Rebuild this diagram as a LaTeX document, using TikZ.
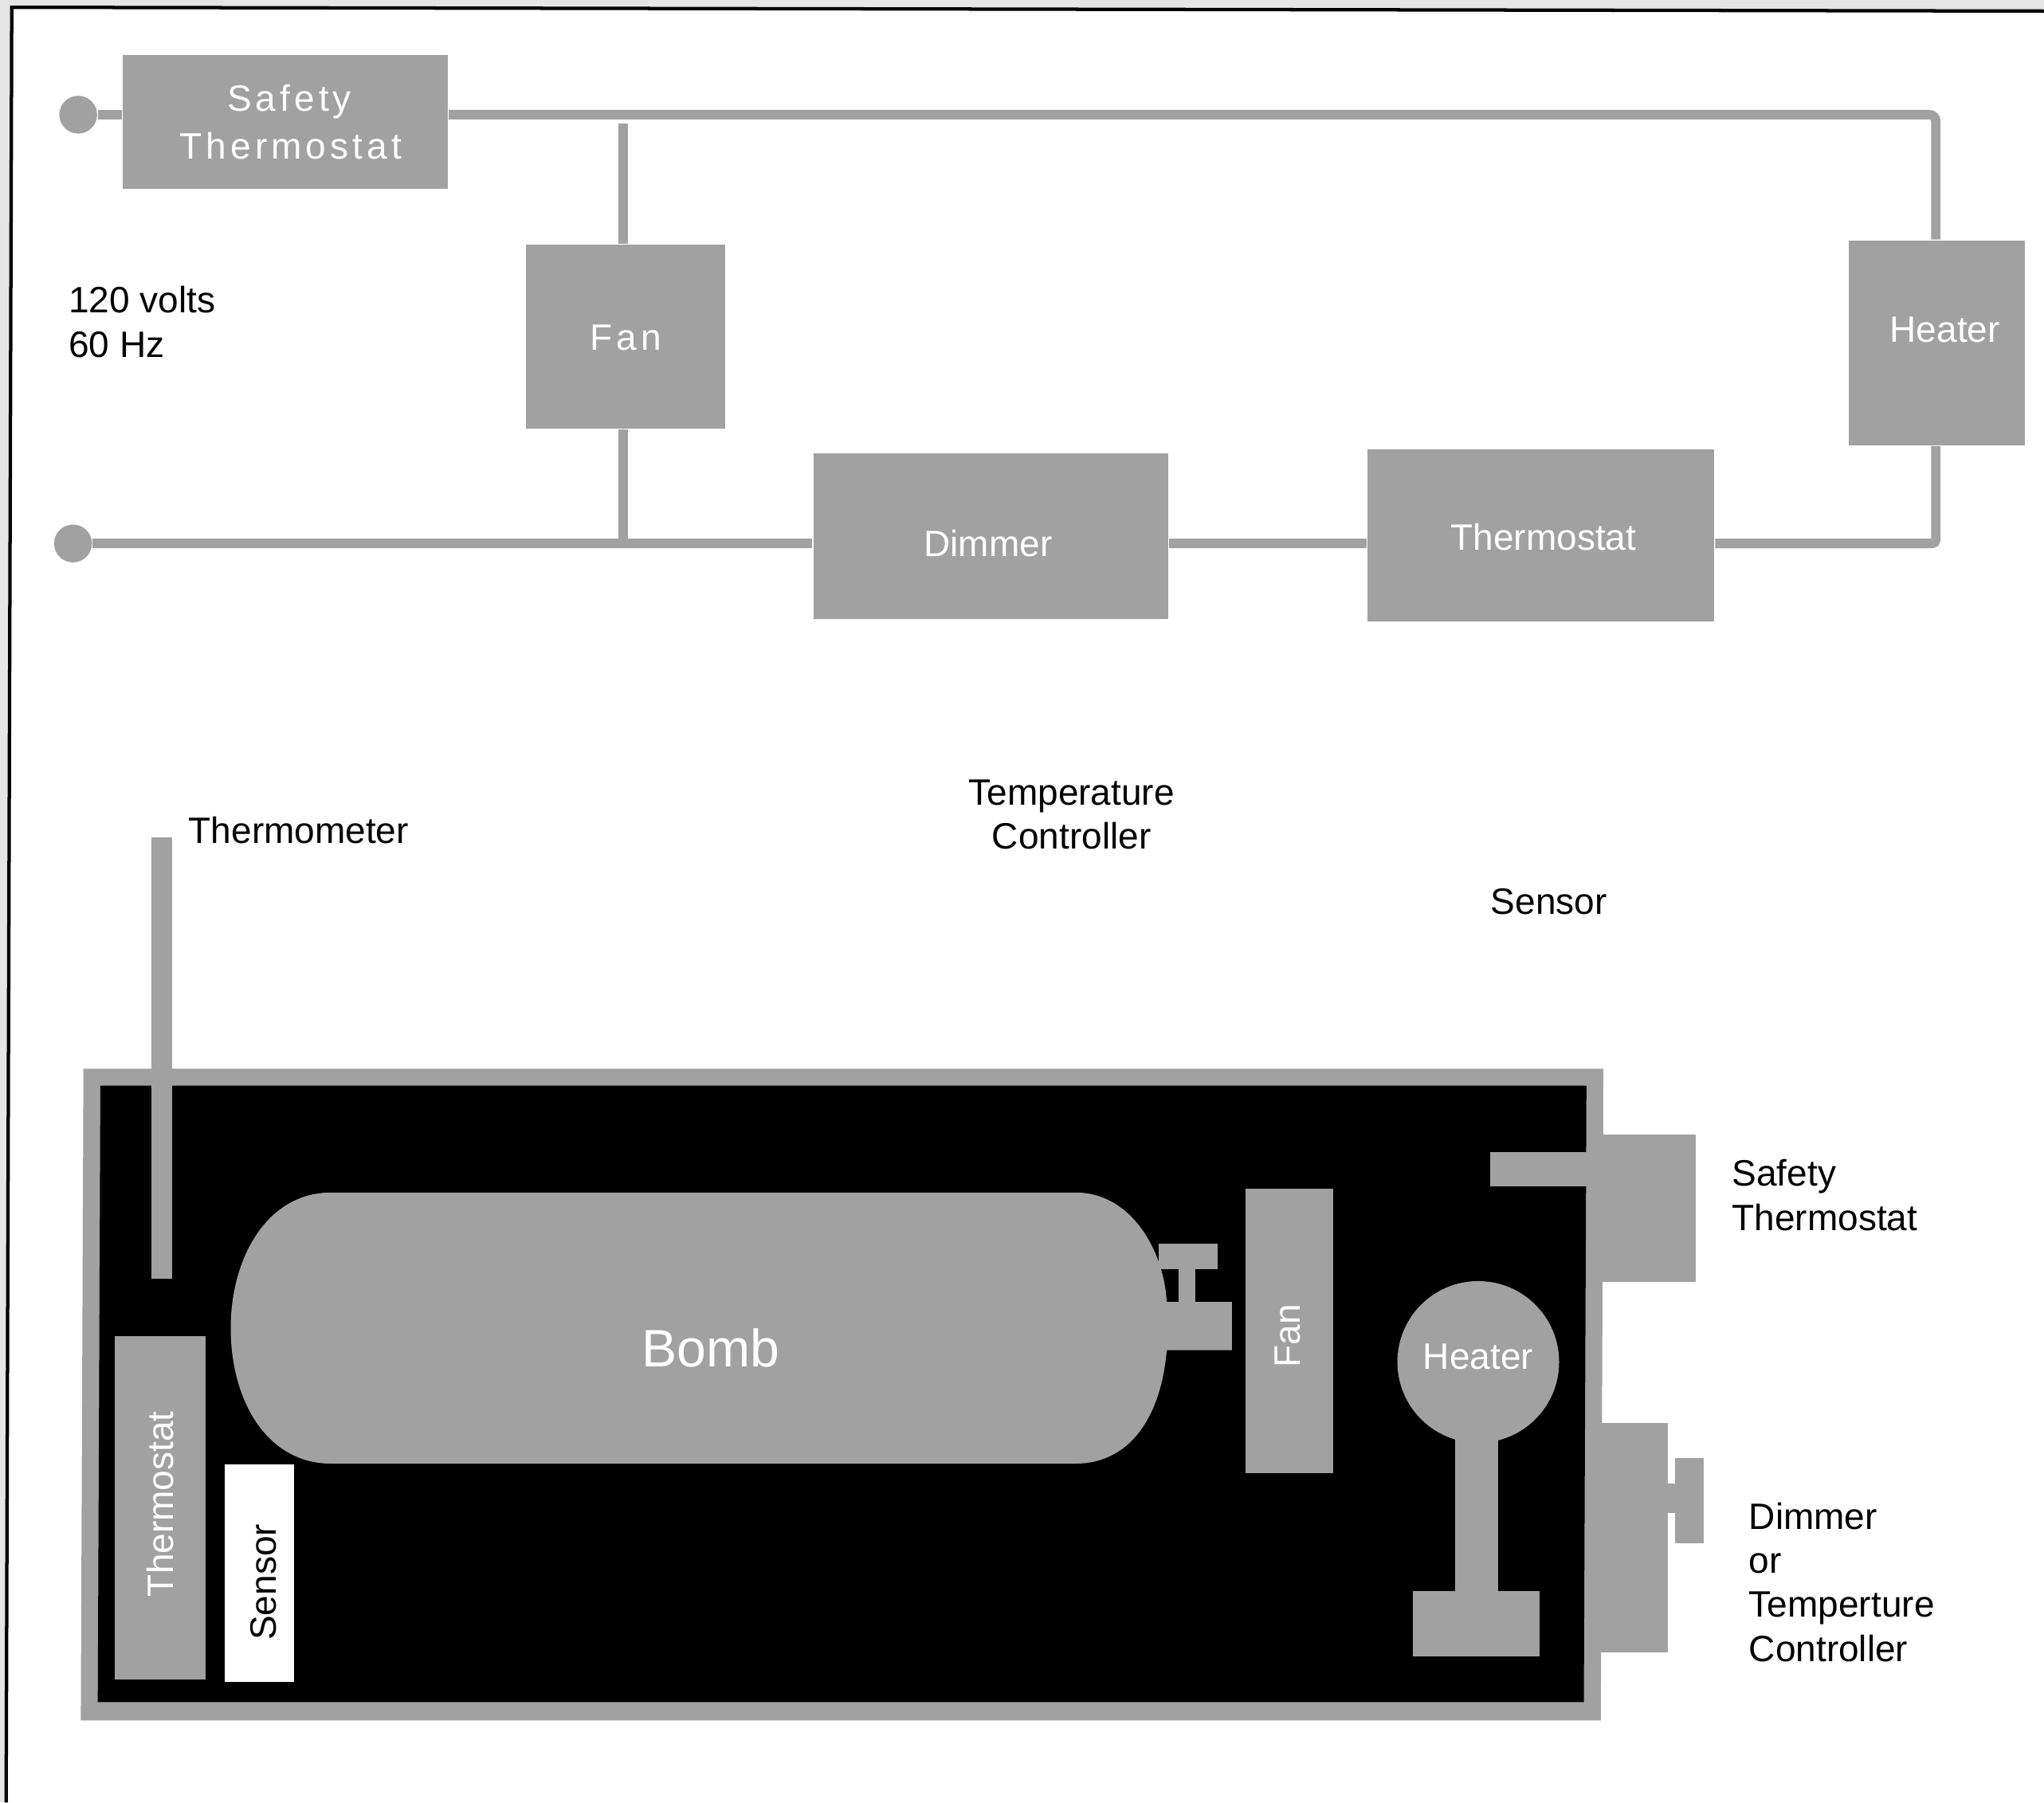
\documentclass[tikz,border=0pt]{standalone}
\usepackage{fontspec}
\setmainfont{Liberation Sans}
\definecolor{gb}{gray}{0.63}
\definecolor{paper}{gray}{0.90}
\tikzset{x=0.01cm,y=-0.01cm,
 blockbox/.style={fill=gb,draw=none,inner sep=0pt},
 whitetext/.style={text=white,font=\fontsize{8}{9.6}\selectfont,align=center,inner sep=0pt},
 spacedtext/.style={whitetext,font=\fontsize{8}{9.6}\selectfont\addfontfeatures{LetterSpace=11}},
 blacktext/.style={text=black,font=\fontsize{8}{9.6}\selectfont,align=left,inner sep=0pt,anchor=west},
 wire/.style={draw=gb,line width=0.073cm},
 terminal/.style={circle,fill=gb,minimum size=0.29cm,inner sep=0pt}}
\begin{document}
\begin{tikzpicture}
\useasboundingbox (0,0) rectangle (1568,1383);
\fill[paper] (0,0) rectangle (1568,1383);
\fill[white] (9,5.6) -- (1568,8.5) -- (1568,1383) -- (4.7,1383) -- cycle;
\draw[line width=0.026cm,line join=miter] (4.7,1383) -- (9,5.6) -- (1568,8.5);
% circuit
\node[terminal] (t1) at (60,88) {};
\node[terminal] (t2) at (56,417) {};
\coordinate (c1) at (1485,88);
\coordinate (c2) at (1485,417);
\coordinate (ftop) at (478,95);
\coordinate (fbot) at (478,417);
\node[blockbox,minimum width=2.49cm,minimum height=1.03cm] (st) at (219,93.5) {};
\node[blockbox,minimum width=1.53cm,minimum height=1.41cm] (fan) at (480,258.5) {};
\node[blockbox,minimum width=1.35cm,minimum height=1.57cm] (ht) at (1486,263) {};
\node[blockbox,minimum width=2.72cm,minimum height=1.27cm] (dim) at (760,411.5) {};
\node[blockbox,minimum width=2.66cm,minimum height=1.32cm] (th) at (1182,411) {};
\draw[wire] (t1) -- (t1 -| st.west);
\draw[wire,rounded corners=0.05cm] (st.east |- c1) -- (c1) -- (ht.north -| c1);
\draw[wire,rounded corners=0.03cm] (ht.south -| c2) -- (c2) -- (th.east |- c2);
\draw[wire] (th.west |- c2) -- (dim.east |- c2);
\draw[wire] (dim.west |- c2) -- (t2);
\draw[wire] (ftop) -- (ftop |- fan.north);
\draw[wire] (fbot |- fan.south) -- (fbot);
\node[spacedtext] at (222,78) {Safety};
\node[spacedtext] at (223,112) {Thermostat};
\node[spacedtext] at (480,259) {Fan};
\node[whitetext] at (1492,253) {Heater};
\node[whitetext] at (758,417) {Dimmer};
\node[whitetext] at (1184,412) {Thermostat};
\node[blacktext] (volts) at (52,247) {120 volts\\60 Hz};
\node[blacktext,align=center,anchor=center] (tc) at (822,625) {Temperature\\Controller};
\node[blacktext] (sens) at (1143,692) {Sensor};
\node[blacktext] (thm) at (144,637) {Thermometer};
% housing
\fill[gb] (64,820) -- (1230,820) -- (1228,1320) -- (62,1320) -- cycle;
\fill[black] (77,833) -- (1217,833) -- (1215,1306) -- (75,1306) -- cycle;
\node[blockbox,minimum width=0.16cm,minimum height=3.38cm,anchor=north] (tm) at (124,642) {};
\node[blockbox,minimum width=0.72cm,minimum height=1.13cm,anchor=north west] (sth) at (1228,870) {};
\fill[gb] (1143,884) rectangle (1232,910);
\fill[gb] (1217,910) rectangle (1232,983);
\node[blockbox,minimum width=0.61cm,minimum height=1.76cm,anchor=north west] (dc) at (1218,1091) {};
\fill[gb] (1279,1138) rectangle (1286,1161);
\fill[gb] (1285,1119) rectangle (1307,1184);
\node[blacktext] at (1328,917) {Safety\\Thermostat};
\node[blacktext] at (1341,1214) {Dimmer\\or\\Temperture\\Controller};
% bomb
\fill[gb] (254,915) -- (825,915) .. controls (868,915) and (893,960) .. (895,999) -- (945,999) -- (945,1036) -- (895,1036) .. controls (891,1085) and (868,1123) .. (825,1123) -- (254,1123) .. controls (205,1123) and (177,1075) .. (177,1019) .. controls (177,965) and (205,915) .. (254,915) -- cycle;
\fill[gb] (904,970) rectangle (917,1003);
\fill[gb] (889,954) rectangle (934,974);
\node[whitetext,font=\fontsize{11.5}{13}\selectfont] (bomb) at (545,1034) {Bomb};
% fan
\node[blockbox,minimum width=0.67cm,minimum height=2.18cm] (fan2) at (989,1021) {};
\node[whitetext,rotate=90] at (988,1025) {Fan};
% heater
\fill[gb] (1116,1090) rectangle (1149,1225);
\fill[gb] (1084,1221) rectangle (1181,1271);
\node[circle,fill=gb,minimum size=1.24cm,inner sep=0pt] (heat2) at (1134,1045) {};
\node[whitetext] at (1134,1041) {Heater};
% thermostat, sensor
\node[blockbox,minimum width=0.70cm,minimum height=2.63cm] (th2) at (123,1157) {};
\node[whitetext,rotate=90] at (123,1154) {Thermostat};
\node[fill=white,minimum width=0.53cm,minimum height=1.67cm,inner sep=0pt] (s2) at (199,1207) {};
\node[text=black,font=\fontsize{8}{9.6}\selectfont,rotate=90,inner sep=0pt] at (202,1214) {Sensor};
\end{tikzpicture}
\end{document}
